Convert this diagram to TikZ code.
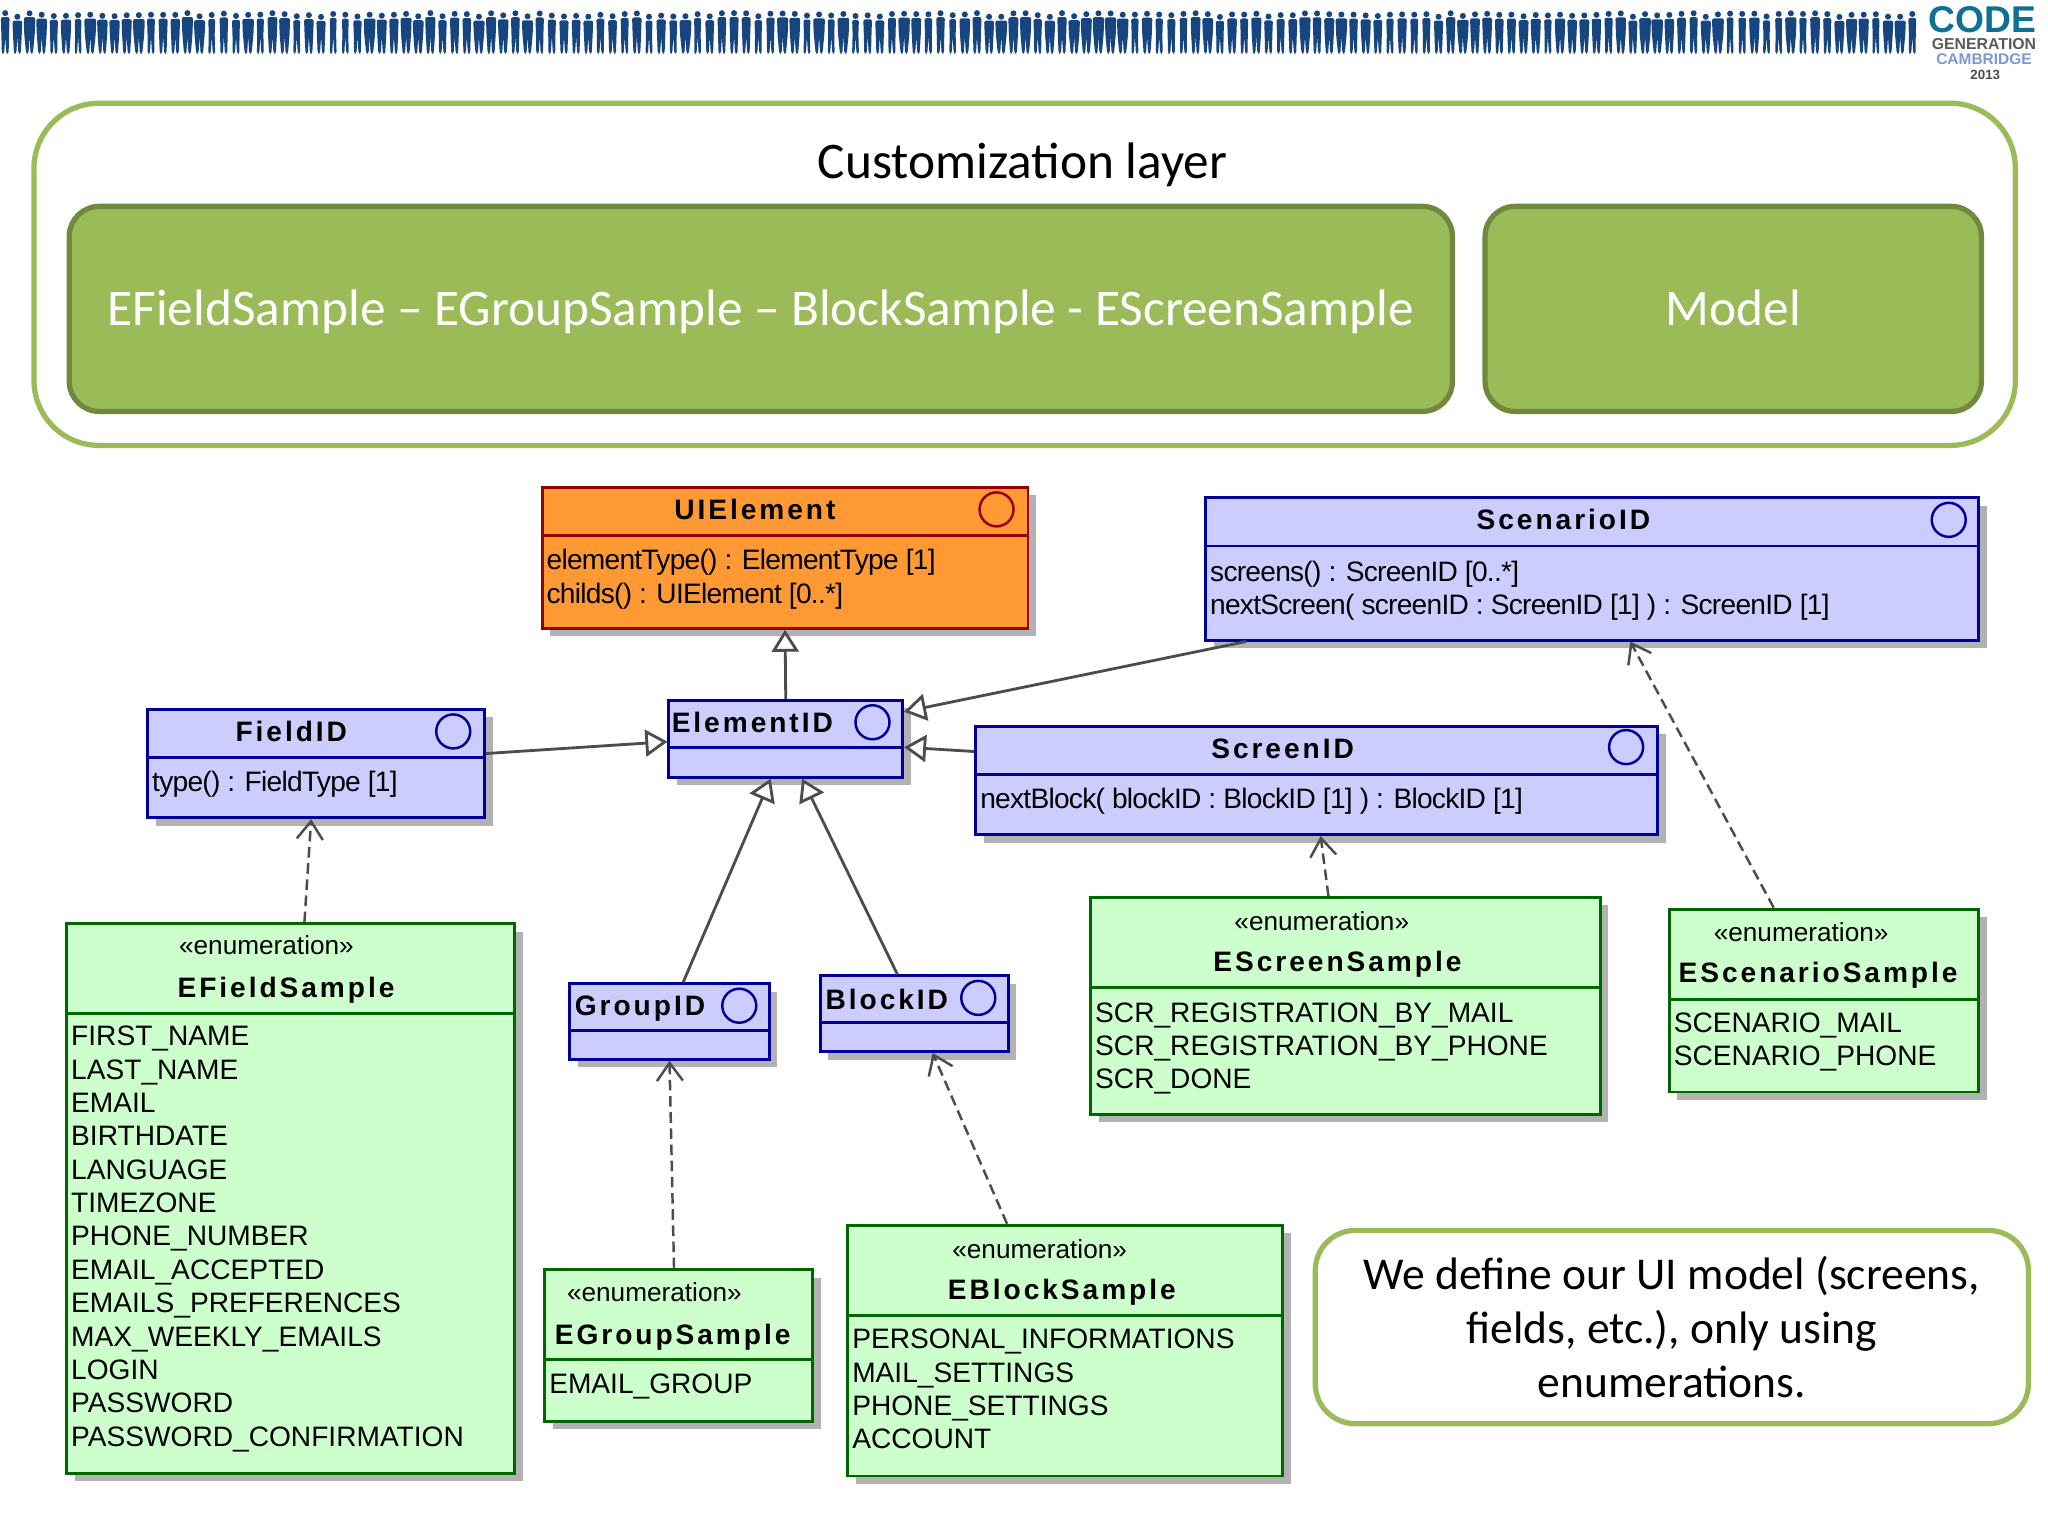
\documentclass[tikz,border=0pt]{standalone}
\usepackage{fontspec}
\setmainfont{Liberation Sans}
\newfontfamily\slidefont{Carlito}
\newfontfamily\headfont[LetterSpace=10.5]{Liberation Sans}
\newfontfamily\opsfont[LetterSpace=-2.6]{Liberation Sans}
\usepackage{tikz}
\usetikzlibrary{positioning,shadows,arrows.meta}
\definecolor{slidegreen}{HTML}{9BBB59}
\definecolor{slideedge}{HTML}{71893F}
\definecolor{peopleblue}{HTML}{17457F}
\definecolor{umlorange}{HTML}{FF9933}
\definecolor{umlred}{HTML}{990000}
\definecolor{umlblue}{HTML}{CCCCFF}
\definecolor{umlnavy}{HTML}{000099}
\definecolor{umlmint}{HTML}{CCFFCC}
\definecolor{umlforest}{HTML}{006600}
\begin{document}
\begin{tikzpicture}[
    x=0.01306cm, y=-0.01306cm,
    size/.style args={#1 by #2}{minimum width=#1*0.01306cm, minimum height=#2*0.01306cm},
    uml/.style={rectangle, anchor=north west, inner sep=0, line width=0.8pt,
        drop shadow={shadow xshift=0.08cm, shadow yshift=-0.08cm, fill=black!30, opacity=1}},
    iface/.style={uml, draw=umlnavy, fill=umlblue},
    base/.style={uml, draw=umlred, fill=umlorange},
    enum/.style={uml, draw=umlforest, fill=umlmint},
    sep/.style={line width=0.8pt},
    head/.style={font=\headfont\bfseries\fontsize{8}{9.5}\selectfont, inner sep=0},
    stereo/.style={font=\fontsize{7.45}{9}\selectfont, inner sep=0},
    rows/.style={font=\fontsize{8}{9.5}\selectfont, align=left, anchor=north west, inner sep=0},
    ops/.style={font=\opsfont\fontsize{8}{9.5}\selectfont, align=left, anchor=north west, inner sep=0},
    ball/.style={circle, draw, line width=0.7pt, inner sep=0, minimum size=0.34cm},
    gen/.style={draw=black!70, line width=0.8pt, -{Triangle[open, fill=white, length=0.22cm, width=0.27cm]}},
    dep/.style={draw=black!70, line width=0.7pt, dashed, dash pattern=on 3pt off 1.6pt,
        -{Straight Barb[length=0.18cm, width=0.26cm]}},
    layer/.style={rectangle, rounded corners=0.65cm, draw=slidegreen, line width=1.5pt, anchor=north west},
    panel/.style={rectangle, rounded corners=0.3cm, draw=slideedge, fill=slidegreen, line width=1.5pt,
        anchor=north west, inner sep=0, text=white, text height=0.5cm, text depth=0.17cm,
        font=\slidefont\fontsize{14.6}{16}\selectfont},
    note/.style={rectangle, rounded corners=0.4cm, draw=slidegreen, line width=1.5pt, anchor=north west,
        align=center, font=\slidefont\fontsize{12.95}{15.4}\selectfont, inner sep=0}
]
\useasboundingbox (1,1) rectangle (1569,1177);
\fill[white] (1,1) rectangle (1569,1177);

% banner
\pgfmathsetseed{23}
\foreach \px in {5,14.3,...,1466}{
    \pgfmathsetmacro{\ptop}{11+3*rnd}
    \pgfmathsetmacro{\pwide}{2.6+2*rnd}
    \fill[peopleblue] (\px,\ptop) circle (2.3);
    \fill[peopleblue, rounded corners=0.6pt] (\px-\pwide,\ptop+3) -- (\px+\pwide,\ptop+3)
        -- (\px+\pwide-0.4,27) -- (\px+2.6,42) -- (\px+0.8,42) -- (\px,29) -- (\px-0.8,42)
        -- (\px-2.6,42) -- (\px-\pwide+0.4,27) -- cycle;
}
\node (LogoCode) [text=peopleblue!70!cyan!90!black, font=\bfseries\fontsize{10.6}{11}\selectfont, inner sep=0] at (1519,16) {CODE};
\node (LogoGen) [text=black!65, font=\bfseries\fontsize{4.5}{5}\selectfont, inner sep=0] at (1520,35) {GENERATION};
\node (LogoCam) [text=cyan!45!blue!55, font=\bfseries\fontsize{4.4}{5}\selectfont, inner sep=0] at (1520,46) {CAMBRIDGE};
\node (LogoYear) [text=black!70, font=\bfseries\fontsize{3.8}{4}\selectfont, inner sep=0] at (1521,58) {2013};

% customization layer
\node (Layer) [layer, size=1517 by 262] at (25,78) {};
\node (LayerTitle) [font=\slidefont\fontsize{14.6}{16}\selectfont, inner sep=0] at (784,127) {Customization layer};
\node (Samples) [panel, size=1059 by 157] at (52,157) {EFieldSample – EGroupSample – BlockSample - EScreenSample};
\node (Model) [panel, size=380 by 157] at (1136,157) {Model};

% interfaces
\node (UIElement) [base, size=372 by 108] at (415,373) {};
\draw[sep, umlred] (UIElement.west |- 0,411) -- (UIElement.east |- 0,411);
\node (UIElementName) [head] at (579,391) {UIElement};
\node (UIElementBall) [ball, draw=umlred] at (764,391) {};
\node (UIElementOps) [ops] at (419,421) {elementType() : ElementType [1]\\childs() : UIElement [0..*]};

\node (ScenarioID) [iface, size=592 by 109] at (923,381) {};
\draw[sep, umlnavy] (ScenarioID.west |- 0,419) -- (ScenarioID.east |- 0,419);
\node (ScenarioIDName) [head] at (1198,399) {ScenarioID};
\node (ScenarioIDBall) [ball, draw=umlnavy] at (1493,399) {};
\node (ScenarioIDOps) [ops] at (927,430) {screens() : ScreenID [0..*]\\nextScreen( screenID : ScreenID [1] ) : ScreenID [1]};

\node (FieldID) [iface, size=258 by 83] at (113,543) {};
\draw[sep, umlnavy] (FieldID.west |- 0,581) -- (FieldID.east |- 0,581);
\node (FieldIDName) [head] at (224,561) {FieldID};
\node (FieldIDBall) [ball, draw=umlnavy] at (348,561) {};
\node (FieldIDOps) [ops] at (117,591) {type() : FieldType [1]};

\node (ElementID) [iface, size=179 by 59] at (512,536) {};
\draw[sep, umlnavy] (ElementID.west |- 0,573) -- (ElementID.east |- 0,573);
\node (ElementIDName) [head] at (577,554) {ElementID};
\node (ElementIDBall) [ball, draw=umlnavy] at (669,554) {};

\node (ScreenID) [iface, size=522 by 83] at (747,556) {};
\draw[sep, umlnavy] (ScreenID.west |- 0,594) -- (ScreenID.east |- 0,594);
\node (ScreenIDName) [head] at (983,574) {ScreenID};
\node (ScreenIDBall) [ball, draw=umlnavy] at (1246,573) {};
\node (ScreenIDOps) [ops] at (751,604) {nextBlock( blockID : BlockID [1] ) : BlockID [1]};

\node (GroupID) [iface, size=153 by 58] at (436,753) {};
\draw[sep, umlnavy] (GroupID.west |- 0,790) -- (GroupID.east |- 0,790);
\node (GroupIDName) [head] at (491,773) {GroupID};
\node (GroupIDBall) [ball, draw=umlnavy] at (567,771) {};

\node (BlockID) [iface, size=144 by 58] at (628,747) {};
\draw[sep, umlnavy] (BlockID.west |- 0,784) -- (BlockID.east |- 0,784);
\node (BlockIDName) [head] at (680,766) {BlockID};
\node (BlockIDBall) [ball, draw=umlnavy] at (750,765) {};

% enumerations
\node (EFieldSample) [enum, size=343 by 421] at (51,707) {};
\draw[sep, umlforest] (EFieldSample.west |- 0,777) -- (EFieldSample.east |- 0,777);
\node (EFieldStereo) [stereo] at (205,725) {«enumeration»};
\node (EFieldName) [head] at (220,759) {EFieldSample};
\node (EFieldRows) [rows] at (55,786) {FIRST\_NAME\\LAST\_NAME\\EMAIL\\BIRTHDATE\\LANGUAGE\\TIMEZONE\\PHONE\_NUMBER\\EMAIL\_ACCEPTED\\EMAILS\_PREFERENCES\\MAX\_WEEKLY\_EMAILS\\LOGIN\\PASSWORD\\PASSWORD\_CONFIRMATION};

\node (EGroupSample) [enum, size=205 by 116] at (417,972) {};
\draw[sep, umlforest] (EGroupSample.west |- 0,1042) -- (EGroupSample.east |- 0,1042);
\node (EGroupStereo) [stereo] at (502,990) {«enumeration»};
\node (EGroupName) [head] at (516,1025) {EGroupSample};
\node (EGroupRows) [rows] at (421,1052) {EMAIL\_GROUP};

\node (EBlockSample) [enum, size=333 by 192] at (649,938) {};
\draw[sep, umlforest] (EBlockSample.west |- 0,1008) -- (EBlockSample.east |- 0,1008);
\node (EBlockStereo) [stereo] at (797,957) {«enumeration»};
\node (EBlockName) [head] at (814,990) {EBlockSample};
\node (EBlockRows) [rows] at (653,1018) {PERSONAL\_INFORMATIONS\\MAIL\_SETTINGS\\PHONE\_SETTINGS\\ACCOUNT};

\node (EScreenSample) [enum, size=390 by 166] at (835,687) {};
\draw[sep, umlforest] (EScreenSample.west |- 0,757) -- (EScreenSample.east |- 0,757);
\node (EScreenStereo) [stereo] at (1013,706) {«enumeration»};
\node (EScreenName) [head] at (1025,739) {EScreenSample};
\node (EScreenRows) [rows] at (839,768) {SCR\_REGISTRATION\_BY\_MAIL\\SCR\_REGISTRATION\_BY\_PHONE\\SCR\_DONE};

\node (EScenarioSample) [enum, size=237 by 140] at (1278,696) {};
\draw[sep, umlforest] (EScenarioSample.west |- 0,766) -- (EScenarioSample.east |- 0,766);
\node (EScenarioStereo) [stereo] at (1380,715) {«enumeration»};
\node (EScenarioName) [head] at (1393,748) {EScenarioSample};
\node (EScenarioRows) [rows] at (1282,776) {SCENARIO\_MAIL\\SCENARIO\_PHONE};

\node (Remark) [note, size=546 by 148] at (1006,941) {We define our UI model (screens,\\fields, etc.), only using\\enumerations.};

% inheritance
\draw[gen] (ElementID.north) -- (UIElement.south);
\draw[gen] ([xshift=0.42cm]ScenarioID.south west) -- ([yshift=-0.13cm]ElementID.north east);
\draw[gen] ([yshift=0.29cm]ScreenID.west) -- ([yshift=-0.085cm]ElementID.east);
\draw[gen] ([yshift=0.1cm]FieldID.east) -- ([yshift=-0.03cm]ElementID.west);
\draw[gen] ([xshift=0.137cm]GroupID.north) -- ([xshift=-0.15cm]ElementID.south);
\draw[gen] ([xshift=-0.17cm]BlockID.north) -- ([xshift=0.164cm]ElementID.south);

% realization
\draw[dep] ([xshift=0.137cm]EFieldSample.north) -- ([xshift=-0.05cm]FieldID.south);
\draw[dep] ([xshift=-0.046cm]EGroupSample.north) -- (GroupID.south);
\draw[dep] ([xshift=-0.582cm]EBlockSample.north) -- ([xshift=0.183cm]BlockID.south);
\draw[dep] ([xshift=-0.17cm]EScreenSample.north) -- ([xshift=0.04cm]ScreenID.south);
\draw[dep] ([xshift=-0.504cm]EScenarioSample.north) -- ([xshift=0.38cm]ScenarioID.south);
\end{tikzpicture}
\end{document}
